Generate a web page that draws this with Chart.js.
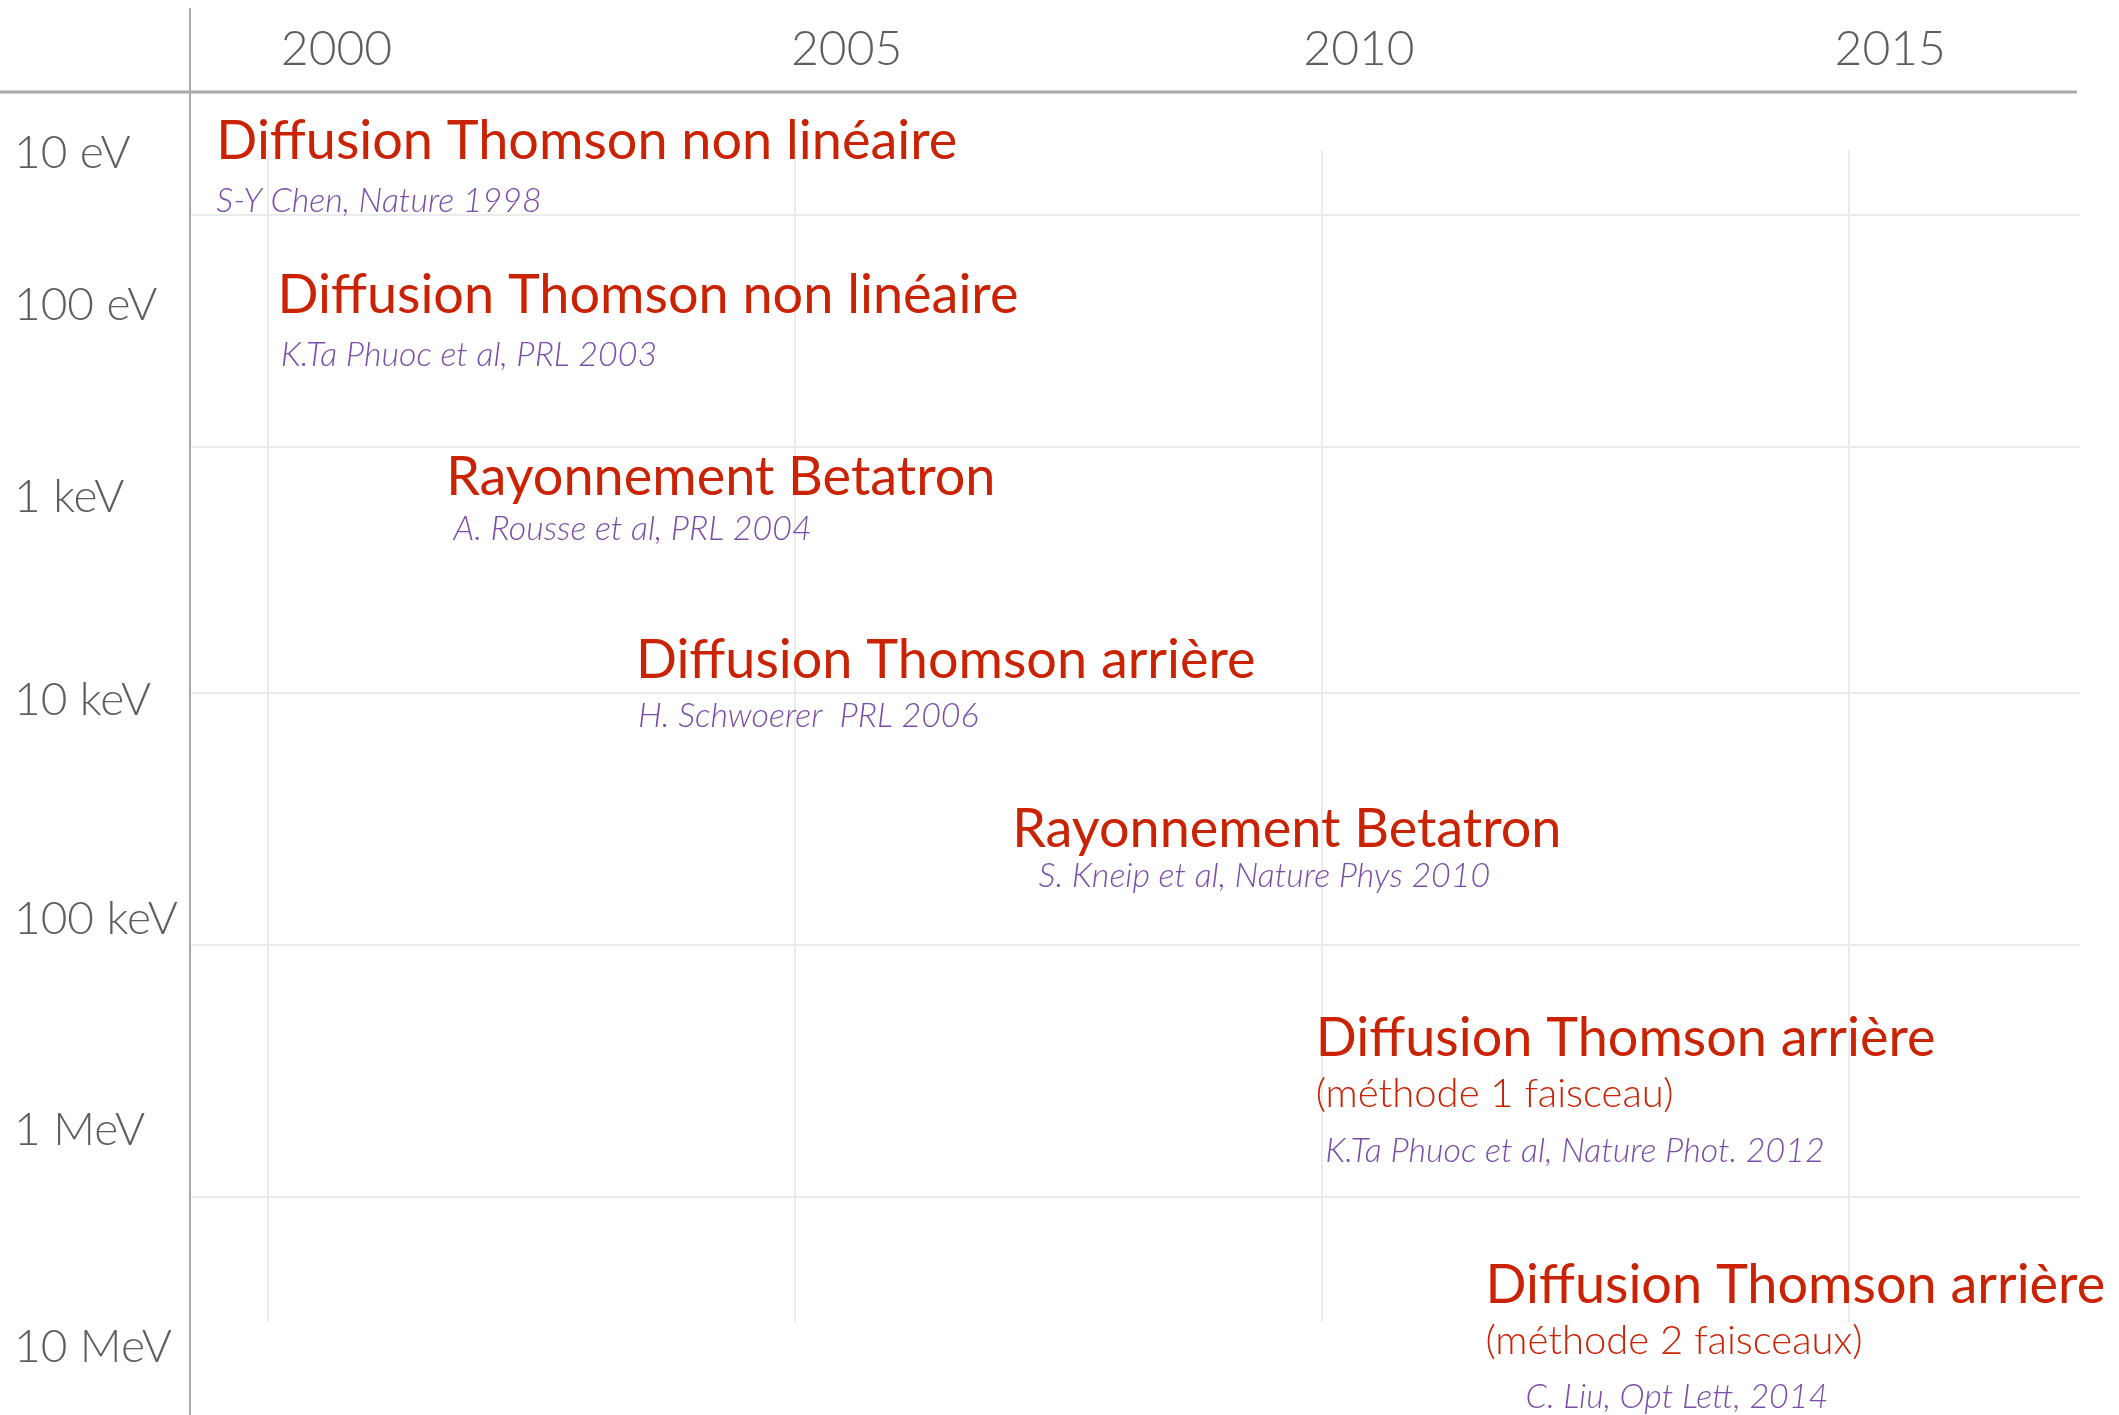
<!DOCTYPE html>
<html>
<head>
    <meta charset="utf-8">
    <title>Sources X laser-plasma</title>
    <script src="https://cdn.jsdelivr.net/npm/chart.js"></script>
    <style>
        body { margin: 0; background: #fff; overflow: hidden; }
        #wrap { width: 2119px; height: 1415px; }
    </style>
</head>
<body>
    <div id="wrap"><canvas id="myChart"></canvas></div>
    <script>
        // axe du haut : annees (grille) et position des etiquettes
        var years = [2000, 2005, 2010, 2015];
        var yearLabelPos = [2000.65, 2005.49, 2010.35, 2015.39];
        // axe de gauche : energies (position, 1 = 10 eV ... 7 = 10 MeV)
        var energyLabels = ['10 eV', '100 eV', '1 keV', '10 keV', '100 keV', '1 MeV', '10 MeV'];
        var energyPos = [1.0, 1.764, 2.729, 3.749, 4.849, 5.910, 7.0];
        var rowLines = [1.312, 2.478, 3.714, 4.980, 6.246];

        // les resultats
        var titles = [
            'Diffusion Thomson non linéaire',
            'Diffusion Thomson non linéaire',
            'Rayonnement Betatron',
            'Diffusion Thomson arrière',
            'Rayonnement Betatron',
            'Diffusion Thomson arrière',
            'Diffusion Thomson arrière'
        ];
        var subtitles = ['', '', '', '', '', '(méthode 1 faisceau)', '(méthode 2 faisceaux)'];
        var refs = [
            'S-Y Chen, Nature 1998',
            'K.Ta Phuoc et al, PRL 2003',
            'A. Rousse et al, PRL 2004',
            'H. Schwoerer  PRL 2006',
            'S. Kneip et al, Nature Phys 2010',
            'K.Ta Phuoc et al, Nature Phot. 2012',
            'C. Liu, Opt Lett, 2014'
        ];
        var titleX = [1999.51, 2000.09, 2001.69, 2003.49, 2007.06, 2009.94, 2011.55];
        var titleY = [1.030, 1.804, 2.719, 3.638, 4.487, 5.538, 6.779];
        var refX = [1999.51, 2000.12, 2001.76, 2003.51, 2007.31, 2010.03, 2011.93];
        var refY = [1.296, 2.070, 2.945, 3.884, 4.688, 6.070, 7.307];

        var red = '#ca2304';
        var purple = '#7c4ca8';
        var grey = '#5e5e5e';

        var points = titleX.map(function(x, i) {
            return { x: x, y: titleY[i] };
        });

        function noPadding(scale) {
            scale.paddingTop = 0;
            scale.paddingBottom = 0;
            scale.paddingLeft = 0;
            scale.paddingRight = 0;
        }

        // grille, axes en croix et textes
        var timeline = {
            id: 'timeline',
            beforeDatasetsDraw: function(chart) {
                var c = chart.ctx, xs = chart.scales.x, ys = chart.scales.y, a = chart.chartArea;
                c.save();
                c.strokeStyle = '#ebebeb';
                c.lineWidth = 2;
                rowLines.forEach(function(v) {
                    var y = Math.round(ys.getPixelForValue(v));
                    c.beginPath(); c.moveTo(a.left, y); c.lineTo(a.right, y); c.stroke();
                });
                var top = ys.getPixelForValue(0.985), bottom = ys.getPixelForValue(6.874);
                years.forEach(function(v) {
                    var x = Math.round(xs.getPixelForValue(v));
                    c.beginPath(); c.moveTo(x, top); c.lineTo(x, bottom); c.stroke();
                });
                c.strokeStyle = '#a9a9a9';
                c.lineWidth = 3;
                c.beginPath(); c.moveTo(0, a.top); c.lineTo(a.right - 3, a.top); c.stroke();
                c.lineWidth = 2;
                c.beginPath(); c.moveTo(a.left, 8); c.lineTo(a.left, chart.height); c.stroke();
                c.restore();
            },
            afterDatasetsDraw: function(chart) {
                var c = chart.ctx, xs = chart.scales.x, ys = chart.scales.y;
                c.save();
                c.textAlign = 'left';
                c.textBaseline = 'alphabetic';
                titles.forEach(function(t, i) {
                    var x = xs.getPixelForValue(titleX[i]);
                    var y = ys.getPixelForValue(titleY[i]);
                    c.fillStyle = red;
                    c.font = '400 54px Lato';
                    c.fillText(t, x, y);
                    if (subtitles[i]) {
                        c.font = '300 40px Lato';
                        c.fillText(subtitles[i], x, y + 51);
                    }
                    c.fillStyle = purple;
                    c.font = 'italic 300 34px Lato';
                    c.fillText(refs[i], xs.getPixelForValue(refX[i]), ys.getPixelForValue(refY[i]));
                });
                c.restore();
            }
        };

        var ctx = document.getElementById('myChart').getContext('2d');
        var myChart = new Chart(ctx, {
            type: 'scatter',
            data: {
                datasets: [{
                    label: 'sources',
                    data: points,
                    pointRadius: 0,
                    showLine: false
                }]
            },
            options: {
                responsive: true,
                maintainAspectRatio: false,
                animation: false,
                layout: { padding: { left: 14, right: 39, top: 0, bottom: 0 } },
                plugins: {
                    legend: { display: false },
                    tooltip: { enabled: false }
                },
                scales: {
                    x: {
                        type: 'linear',
                        position: 'top',
                        min: 1999.26,
                        max: 2017.19,
                        afterBuildTicks: function(scale) {
                            scale.ticks = yearLabelPos.map(function(v) { return { value: v }; });
                        },
                        afterFit: function(scale) { scale.height = 92; noPadding(scale); },
                        grid: { display: false, drawTicks: false },
                        border: { display: false },
                        ticks: {
                            autoSkip: false,
                            maxRotation: 0,
                            padding: 14,
                            color: grey,
                            font: { family: 'Lato', size: 48, weight: 300 },
                            callback: function(v, i) { return String(years[i]); }
                        }
                    },
                    y: {
                        type: 'linear',
                        reverse: true,
                        min: 0.6935,
                        max: 7.3417,
                        afterBuildTicks: function(scale) {
                            scale.ticks = energyPos.map(function(v) { return { value: v }; });
                        },
                        afterFit: function(scale) { scale.width = 176; noPadding(scale); },
                        grid: { display: false, drawTicks: false },
                        border: { display: false },
                        ticks: {
                            autoSkip: false,
                            crossAlign: 'far',
                            color: grey,
                            font: { family: 'Lato', size: 46, weight: 300 },
                            callback: function(v, i) { return energyLabels[i]; }
                        }
                    }
                }
            },
            plugins: [timeline]
        });
    </script>
</body>
</html>
